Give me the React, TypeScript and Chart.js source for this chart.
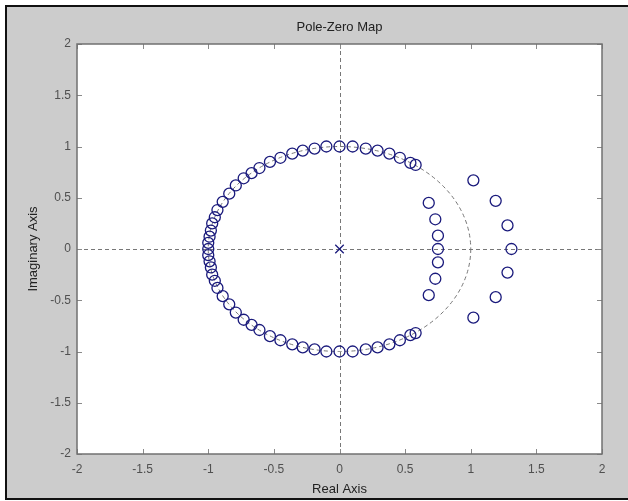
import React, { useEffect, useRef } from 'react';
import { Chart, registerables } from 'chart.js';

Chart.register(...registerables);

// ---- data ----
const unitZeroRe = [
  0.58, 0.54, 0.46, 0.38, 0.29, 0.2, 0.1, 0.0, -0.1, -0.19, -0.28, -0.36, -0.45, -0.53,
  -0.61, -0.67, -0.73, -0.79, -0.84, -0.89, -0.93, -0.95, -0.97, -0.98, -0.99, -1.0, -1.0,
  -1.0, -0.99, -0.98, -0.97, -0.95, -0.93, -0.89, -0.84, -0.79, -0.73, -0.67, -0.61, -0.53,
  -0.45, -0.36, -0.28, -0.19, -0.1, 0.0, 0.1, 0.2, 0.29, 0.38, 0.46, 0.54, 0.58,
];
const unitZeroIm = [
  0.82, 0.84, 0.89, 0.93, 0.96, 0.98, 1.0, 1.0, 1.0, 0.98, 0.96, 0.93, 0.89, 0.85,
  0.79, 0.74, 0.69, 0.62, 0.54, 0.46, 0.38, 0.31, 0.25, 0.18, 0.12, 0.06, 0.0,
  -0.06, -0.12, -0.18, -0.25, -0.31, -0.38, -0.46, -0.54, -0.62, -0.69, -0.74, -0.79, -0.85,
  -0.89, -0.93, -0.96, -0.98, -1.0, -1.0, -1.0, -0.98, -0.96, -0.93, -0.89, -0.84, -0.82,
];
const innerZeroRe = [0.68, 0.73, 0.75, 0.75, 0.75, 0.73, 0.68];
const innerZeroIm = [0.45, 0.29, 0.13, 0.0, -0.13, -0.29, -0.45];
const outerZeroRe = [1.02, 1.19, 1.28, 1.31, 1.28, 1.19, 1.02];
const outerZeroIm = [0.67, 0.47, 0.23, 0.0, -0.23, -0.47, -0.67];
const poleRe = [0];
const poleIm = [0];

const axisMin = -2;
const axisMax = 2;
const tickStep = 0.5;
const tickValues = [-2, -1.5, -1, -0.5, 0, 0.5, 1, 1.5, 2];

const titleText = 'Pole-Zero Map';
const xTitleText = 'Real Axis';
const yTitleText = 'Imaginary Axis';

const FONT = '"Liberation Sans", Arial, sans-serif';
const MARK = '#1a1a7c';

function zip(re: number[], im: number[]) {
  return re.map((x, i) => ({ x, y: im[i] }));
}

const decorPlugin = {
  id: 'matlabDecor',
  beforeDraw(chart: any) {
    const { ctx, width, height, chartArea } = chart;
    ctx.save();
    ctx.fillStyle = '#ffffff';
    ctx.fillRect(0, 0, width, height);
    ctx.fillStyle = '#111111';
    ctx.fillRect(5, 5, width - 5, height - 6);
    ctx.fillStyle = '#cccccc';
    ctx.fillRect(7, 7, width - 7, height - 10);
    ctx.fillStyle = '#ffffff';
    ctx.fillRect(chartArea.left, chartArea.top, chartArea.right - chartArea.left, chartArea.bottom - chartArea.top);
    ctx.restore();
  },
  beforeDatasetsDraw(chart: any) {
    const { ctx, chartArea, scales } = chart;
    const xs = scales.x;
    const ys = scales.y;
    const { left, right, top, bottom } = chartArea;
    ctx.save();
    // dashed axes lines and unit circle
    ctx.strokeStyle = '#777777';
    ctx.lineWidth = 1;
    ctx.setLineDash([4, 3]);
    const x0 = Math.round(xs.getPixelForValue(0)) + 0.5;
    const y0 = Math.round(ys.getPixelForValue(0)) + 0.5;
    ctx.beginPath();
    ctx.moveTo(left, y0);
    ctx.lineTo(right, y0);
    ctx.moveTo(x0, top);
    ctx.lineTo(x0, bottom);
    ctx.stroke();
    const rx = xs.getPixelForValue(1) - xs.getPixelForValue(0);
    const ry = ys.getPixelForValue(0) - ys.getPixelForValue(1);
    ctx.beginPath();
    ctx.ellipse(xs.getPixelForValue(0), ys.getPixelForValue(0), rx, ry, 0, 0, Math.PI * 2);
    ctx.stroke();
    ctx.setLineDash([]);
    // inward ticks
    ctx.strokeStyle = '#8a8a8a';
    ctx.beginPath();
    tickValues.forEach((v) => {
      const px = Math.round(xs.getPixelForValue(v)) + 0.5;
      ctx.moveTo(px, bottom);
      ctx.lineTo(px, bottom - 5);
      ctx.moveTo(px, top);
      ctx.lineTo(px, top + 5);
      const py = Math.round(ys.getPixelForValue(v)) + 0.5;
      ctx.moveTo(left, py);
      ctx.lineTo(left + 5, py);
      ctx.moveTo(right, py);
      ctx.lineTo(right - 5, py);
    });
    ctx.stroke();
    // frame
    ctx.strokeStyle = '#707070';
    ctx.lineWidth = 1.5;
    ctx.strokeRect(left, top, right - left, bottom - top);
    ctx.restore();
  },
};

export default function App() {
  const canvasRef = useRef<HTMLCanvasElement | null>(null);

  useEffect(() => {
    const canvas = canvasRef.current;
    if (!canvas) return;
    const chart = new Chart(canvas, {
      type: 'scatter',
      data: {
        datasets: [
          {
            label: 'zeros',
            data: [
              ...zip(unitZeroRe, unitZeroIm),
              ...zip(innerZeroRe, innerZeroIm),
              ...zip(outerZeroRe, outerZeroIm),
            ],
            pointStyle: 'circle',
            pointRadius: 5.5,
            pointBorderWidth: 1.3,
            pointBorderColor: MARK,
            pointBackgroundColor: 'rgba(0,0,0,0)',
            showLine: false,
          },
          {
            label: 'poles',
            data: zip(poleRe, poleIm),
            pointStyle: 'crossRot',
            pointRadius: 6,
            pointBorderWidth: 1.3,
            pointBorderColor: MARK,
            showLine: false,
          },
        ],
      },
      options: {
        animation: false,
        responsive: false,
        devicePixelRatio: 1,
        events: [],
        layout: { padding: { left: 0, right: 26, top: 0, bottom: 0 } },
        plugins: {
          legend: { display: false },
          tooltip: { enabled: false },
          title: {
            display: true,
            fullSize: false,
            text: titleText,
            color: '#222222',
            font: { family: FONT, size: 13, weight: 'normal' },
            padding: { top: 19.2, bottom: 9.2 },
          },
        },
        scales: {
          x: {
            type: 'linear',
            min: axisMin,
            max: axisMax,
            afterFit: (s: any) => {
              s.height = 47;
            },
            afterBuildTicks: (s: any) => {
              s.ticks = tickValues.map((v) => ({ value: v }));
            },
            ticks: {
              stepSize: tickStep,
              autoSkip: false,
              maxRotation: 0,
              padding: 8,
              color: '#505050',
              font: { family: FONT, size: 12 },
              callback: (v: any) => String(v),
            },
            grid: { display: false, drawTicks: false },
            border: { display: false },
            title: {
              display: true,
              text: xTitleText,
              color: '#222222',
              font: { family: FONT, size: 13 },
              padding: { top: 0, bottom: 4.2 },
            },
          },
          y: {
            type: 'linear',
            min: axisMin,
            max: axisMax,
            afterFit: (s: any) => {
              s.width = 77;
            },
            afterBuildTicks: (s: any) => {
              s.ticks = tickValues.map((v) => ({ value: v }));
            },
            ticks: {
              stepSize: tickStep,
              autoSkip: false,
              padding: 6,
              color: '#505050',
              font: { family: FONT, size: 12 },
              callback: (v: any) => String(v),
            },
            grid: { display: false, drawTicks: false },
            border: { display: false },
            title: {
              display: true,
              text: yTitleText,
              color: '#222222',
              font: { family: FONT, size: 13 },
              padding: { top: 25.2, bottom: 0 },
            },
          },
        },
      },
      plugins: [decorPlugin],
    } as any);
    return () => chart.destroy();
  }, []);

  return (
    <div style={{ position: 'absolute', left: 0, top: 0, width: 628, height: 501 }}>
      <canvas ref={canvasRef} width={628} height={501} style={{ display: 'block', width: 628, height: 501 }} />
    </div>
  );
}
